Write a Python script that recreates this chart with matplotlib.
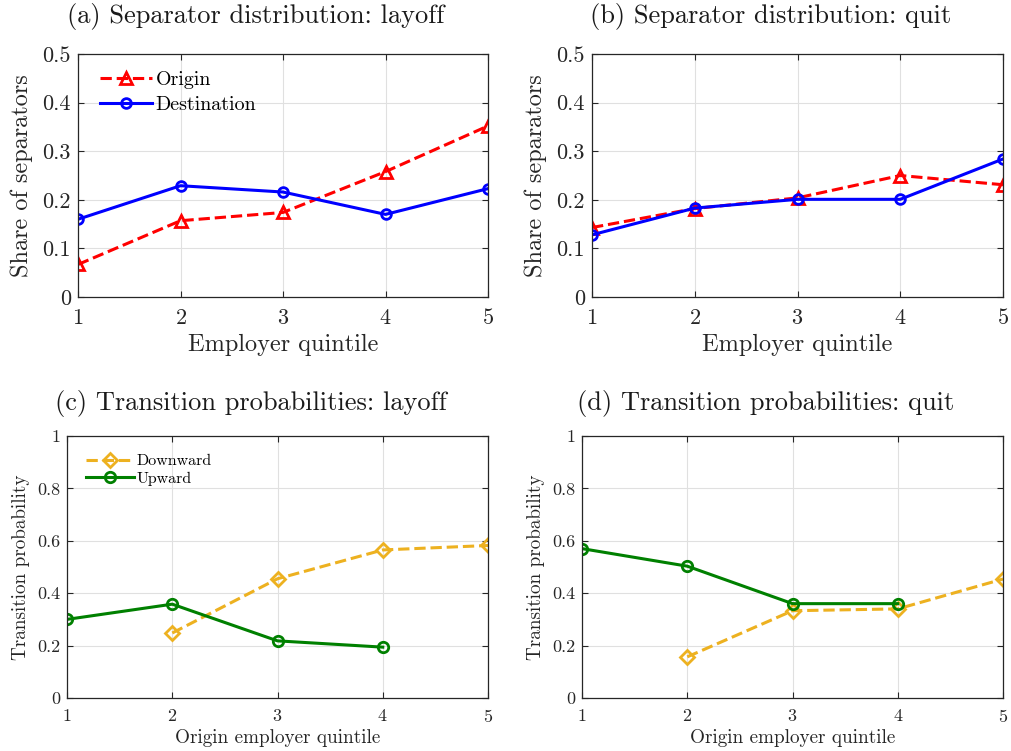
import numpy as np
import matplotlib
matplotlib.use('Agg')
import matplotlib.pyplot as plt

# dados
quintis = [1, 2, 3, 4, 5]

origem_layoff = [0.067, 0.157, 0.174, 0.258, 0.352]
destino_layoff = [0.160, 0.229, 0.216, 0.170, 0.223]
origem_quit = [0.143, 0.182, 0.204, 0.250, 0.231]
destino_quit = [0.128, 0.183, 0.201, 0.201, 0.284]

desce_layoff = [np.nan, 0.248, 0.455, 0.565, 0.582]
sobe_layoff = [0.300, 0.358, 0.218, 0.194, np.nan]
desce_quit = [np.nan, 0.157, 0.333, 0.340, 0.454]
sobe_quit = [0.570, 0.503, 0.360, 0.360, np.nan]

titulos = ['(a) Separator distribution: layoff', '(b) Separator distribution: quit',
           '(c) Transition probabilities: layoff', '(d) Transition probabilities: quit']

plt.rcParams['font.family'] = ['cmr10', 'DejaVu Serif']
plt.rcParams['mathtext.fontset'] = 'cm'
plt.rcParams['axes.formatter.use_mathtext'] = True

cinza = '#262626'
vermelho = '#FF0000'
azul = '#0000FF'
laranja = '#EDB120'
verde = '#008000'

fig = plt.figure(figsize=(10.11, 7.51), dpi=100)

posicoes = [[0.0772, 0.6045, 0.4055, 0.3236],
            [0.5856, 0.6045, 0.4065, 0.3236],
            [0.0663, 0.0706, 0.4164, 0.3489],
            [0.5757, 0.0706, 0.4164, 0.3489]]
eixos = [fig.add_axes(p) for p in posicoes]


def estilo(ax, fs_tick, pad_x):
    ax.set_xlim(1, 5)
    ax.set_xticks(quintis)
    ax.grid(True, color='#e0e0e0', linewidth=0.8)
    ax.set_axisbelow(True)
    ax.tick_params(direction='in', top=True, right=True, labelsize=fs_tick,
                   colors=cinza, length=4, width=0.8)
    ax.tick_params(axis='x', pad=pad_x)
    ax.tick_params(axis='y', pad=5)
    for s in ax.spines.values():
        s.set_color(cinza)
        s.set_linewidth(0.9)


def titulo(ax, texto, desloc_y):
    w = ax.get_position().width * 1011
    h = ax.get_position().height * 751
    ax.text(0.5 - 27 / w, 1 + desloc_y / h, texto, transform=ax.transAxes,
            ha='center', va='center', fontsize=19, color='#1a1a1a')


# linha de cima
for i, (orig, dest) in enumerate([(origem_layoff, destino_layoff), (origem_quit, destino_quit)]):
    ax = eixos[i]
    ax.plot(quintis, orig, '--', color=vermelho, linewidth=2.2, marker='^', markersize=9,
            markerfacecolor='none', markeredgewidth=2, label='Origin')
    ax.plot(quintis, dest, '-', color=azul, linewidth=2.2, marker='o', markersize=7,
            markerfacecolor='none', markeredgewidth=2, label='Destination')
    estilo(ax, 16, 8)
    ax.set_ylim(0, 0.5)
    ax.set_yticks([0, 0.1, 0.2, 0.3, 0.4, 0.5])
    ax.set_yticklabels(['0', '0.1', '0.2', '0.3', '0.4', '0.5'])
    ax.set_xlabel('Employer quintile', fontsize=17.5, color=cinza)
    ax.set_ylabel('Share of separators', fontsize=17.5, color=cinza)
    ax.xaxis.set_label_coords(0.5, -0.15)
    ax.yaxis.set_label_coords(-0.11, 0.5)
    titulo(ax, titulos[i], 37)
    if i == 0:
        ax.legend(loc='upper left', fontsize=14.4, frameon=False, handlelength=2.6,
                  handletextpad=0.15, borderaxespad=0.0, labelspacing=0.35,
                  bbox_to_anchor=(0.035, 0.965))

# linha de baixo
for i, (desce, sobe) in enumerate([(desce_layoff, sobe_layoff), (desce_quit, sobe_quit)]):
    ax = eixos[i + 2]
    ax.plot(quintis, desce, '--', color=laranja, linewidth=2.2, marker='D', markersize=7,
            markerfacecolor='none', markeredgewidth=2, label='Downward')
    ax.plot(quintis, sobe, '-', color=verde, linewidth=2.2, marker='o', markersize=7.5,
            markerfacecolor='none', markeredgewidth=2, label='Upward')
    estilo(ax, 13, 7)
    ax.set_ylim(0, 1)
    ax.set_yticks([0, 0.2, 0.4, 0.6, 0.8, 1])
    ax.set_yticklabels(['0', '0.2', '0.4', '0.6', '0.8', '1'])
    ax.set_xlabel('Origin employer quintile', fontsize=13.8, color=cinza)
    ax.set_ylabel('Transition probability', fontsize=13.8, color=cinza)
    ax.xaxis.set_label_coords(0.5, -0.12)
    ax.yaxis.set_label_coords(-0.088, 0.5)
    titulo(ax, titulos[i + 2], 32)
    if i == 0:
        ax.legend(loc='upper left', fontsize=11.5, frameon=False, handlelength=3.0,
                  handletextpad=0.15, borderaxespad=0.0, labelspacing=0.2,
                  bbox_to_anchor=(0.03, 0.955))

fig.savefig('out.png', dpi=100)
